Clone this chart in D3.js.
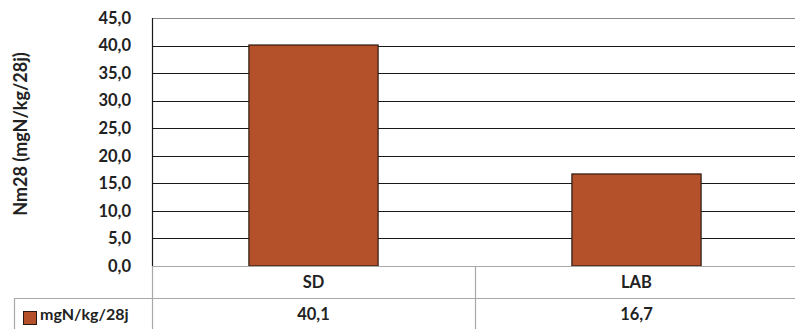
<!DOCTYPE html>
<html>
<head>
<meta charset="utf-8">
<script src="https://cdn.jsdelivr.net/npm/d3@7"></script>
<style>
  body { margin: 0; background: #fff; }
  text { font-family: Lato, "Open Sans", sans-serif; font-weight: bold; fill: #222; }
</style>
</head>
<body>
<div id="chart"></div>
<script>
const categories = ["SD", "LAB"];
const values = [40.1, 16.7];
const seriesName = "mgN/kg/28j";
const yTicks = [0, 5, 10, 15, 20, 25, 30, 35, 40, 45];
const yTitle = "Nm28 (mgN/kg/28j)";

const width = 795, height = 329;
const plotLeft = 152, plotRight = 798, plotTop = 18, plotBottom = 266;
const rowH = 32;
const fontSize = 16.5;
const fmt = v => v.toFixed(1).replace(".", ",");

const svg = d3.select("#chart").append("svg")
    .attr("width", width)
    .attr("height", height);

const y = d3.scaleLinear().domain([0, 45]).range([plotBottom, plotTop]);
const x = d3.scaleBand().domain(categories).range([plotLeft, plotRight])
    .paddingInner(0.6).paddingOuter(0.3);
const step = x.step();

// gridlines
svg.append("g").selectAll("line")
    .data(yTicks.filter(d => d > 0))
    .join("line")
    .attr("x1", plotLeft).attr("x2", plotRight)
    .attr("y1", d => Math.round(y(d)) + 0.5)
    .attr("y2", d => Math.round(y(d)) + 0.5)
    .attr("stroke", d => d === 45 ? "#8a8a8a" : "#1a1a1a")
    .attr("stroke-width", 1.2);

// bars
svg.append("g").selectAll("rect")
    .data(values)
    .join("rect")
    .attr("x", (d, i) => x(categories[i]))
    .attr("width", x.bandwidth())
    .attr("y", d => y(d))
    .attr("height", d => y(0) - y(d))
    .attr("fill", "#b5512a")
    .attr("stroke", "#2b1a12")
    .attr("stroke-width", 1.2);

// y axis line
svg.append("line")
    .attr("x1", plotLeft + 0.5).attr("x2", plotLeft + 0.5)
    .attr("y1", plotTop).attr("y2", plotBottom)
    .attr("stroke", "#1a1a1a").attr("stroke-width", 1.2);

// y tick labels
svg.append("g").selectAll("text")
    .data(yTicks)
    .join("text")
    .attr("x", 131)
    .attr("y", d => y(d))
    .attr("dy", "0.35em")
    .attr("text-anchor", "end")
    .attr("font-size", fontSize)
    .text(fmt);

// y axis title
svg.append("text")
    .attr("transform", "translate(26.5,134) rotate(-90)")
    .attr("text-anchor", "middle")
    .attr("font-size", 18)
    .text(yTitle);

// data table
const grid = svg.append("g").attr("stroke", "#a8a8a8").attr("stroke-width", 1.2);
grid.append("line").attr("x1", plotLeft).attr("x2", width).attr("y1", plotBottom + 0.5).attr("y2", plotBottom + 0.5);
grid.append("line").attr("x1", 14).attr("x2", width).attr("y1", plotBottom + rowH + 0.5).attr("y2", plotBottom + rowH + 0.5);
grid.append("line").attr("x1", 14.5).attr("x2", 14.5).attr("y1", plotBottom + rowH).attr("y2", height);
grid.append("line").attr("x1", plotLeft + 0.5).attr("x2", plotLeft + 0.5).attr("y1", plotBottom).attr("y2", height);
categories.slice(1).forEach(c => {
  const xs = Math.round(x(c) - step * 0.3) + 0.5;
  grid.append("line").attr("x1", xs).attr("x2", xs).attr("y1", plotBottom).attr("y2", height);
});

svg.append("g").selectAll("text")
    .data(categories)
    .join("text")
    .attr("x", d => x(d) + x.bandwidth() / 2)
    .attr("y", plotBottom + rowH / 2)
    .attr("dy", "0.35em")
    .attr("text-anchor", "middle")
    .attr("font-size", fontSize)
    .text(d => d);

svg.append("g").selectAll("text")
    .data(values)
    .join("text")
    .attr("x", (d, i) => x(categories[i]) + x.bandwidth() / 2)
    .attr("y", plotBottom + rowH * 1.5)
    .attr("dy", "0.35em")
    .attr("text-anchor", "middle")
    .attr("font-size", fontSize)
    .text(fmt);

// legend key in table
svg.append("rect")
    .attr("x", 23.5).attr("y", 311.5)
    .attr("width", 13).attr("height", 13)
    .attr("fill", "#b5512a").attr("stroke", "#2b1a12");
svg.append("text")
    .attr("x", 40)
    .attr("y", plotBottom + rowH * 1.5)
    .attr("dy", "0.35em")
    .attr("font-size", 16)
    .text(seriesName);
</script>
</body>
</html>
